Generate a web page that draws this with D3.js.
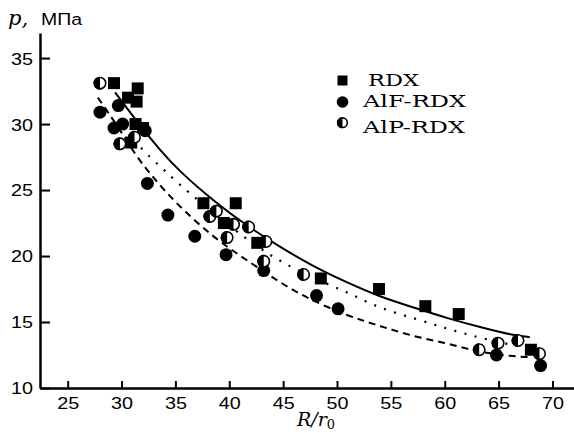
<!DOCTYPE html>
<html>
<head>
<meta charset="utf-8">
<script src="https://cdn.jsdelivr.net/npm/d3@7"></script>
<style>
  body { margin: 0; background: #fff; }
  svg { display: block; }
  .tick text { font-family: "Liberation Sans", Arial, sans-serif; font-size: 16.5px; fill: #000; }
  .legend text { font-family: "DejaVu Serif", serif; font-size: 17.5px; }
</style>
</head>
<body>
<svg id="chart" width="574" height="433"></svg>
<script>
// R/r0 and p (MPa)
const rdxR = [29.3, 30.6, 31.5, 31.4, 30.9, 31.3, 32.0, 37.6, 40.6, 39.5, 42.6, 48.5, 53.9, 58.2, 61.3, 68.0];
const rdxP = [33.1, 32.0, 32.7, 31.7, 28.6, 30.0, 29.7, 24.0, 24.0, 22.5, 21.0, 18.3, 17.5, 16.2, 15.6, 12.9];

const alfR = [28.0, 29.3, 29.7, 30.1, 32.2, 32.4, 34.3, 36.8, 39.7, 43.2, 48.1, 50.1, 64.8, 68.9];
const alfP = [30.9, 29.7, 31.4, 30.0, 29.5, 25.5, 23.1, 21.5, 20.1, 18.9, 17.0, 16.0, 12.5, 11.7];

const alpR = [28.0, 29.85, 31.2, 38.2, 38.8, 40.4, 39.8, 41.8, 43.4, 43.2, 46.9, 63.2, 64.95, 66.8, 68.8];
const alpP = [33.1, 28.5, 29.0, 23.0, 23.4, 22.4, 21.4, 22.2, 21.1, 19.6, 18.6, 12.9, 13.4, 13.6, 12.6];

// fitted curves
const rdxFitR = [29.4, 31.7, 33.6, 35.4, 38.5, 41.6, 44.7, 47.8, 50.9, 54.0, 57.1, 60.2, 63.3, 66.3, 67.9];
const rdxFitP = [32.4, 29.9, 28.0, 26.4, 24.2, 22.3, 20.7, 19.2, 18.0, 16.9, 16.1, 15.3, 14.6, 14.0, 13.85];

const alfFitR = [27.8, 29.6, 31.4, 32.9, 34.8, 38.5, 41.6, 44.7, 47.2, 51.2, 54.0, 57.1, 60.2, 63.25, 66.3, 67.7];
const alfFitP = [32.0, 29.9, 27.5, 26.0, 24.2, 21.4, 19.7, 18.0, 16.8, 15.4, 14.7, 13.9, 13.4, 12.7, 12.4, 12.35];

const alpFitR = [31.2, 32.2, 34.0, 35.7, 40.7, 44.0, 47.8, 50.9, 53.7, 57.1, 60.2, 63.25, 66.3, 67.6];
const alpFitP = [28.8, 27.8, 26.5, 25.15, 21.8, 19.9, 18.3, 17.3, 16.1, 15.3, 14.5, 13.8, 13.25, 13.1];

const xTicks = [25, 30, 35, 40, 45, 50, 55, 60, 65, 70];
const yTicks = [10, 15, 20, 25, 30, 35];
const legendNames = ["RDX", "AlF-RDX", "AlP-RDX"];

const svg = d3.select("#chart");

const x = d3.scaleLinear().domain([22.43, 72]).range([40, 574]);
const y = d3.scaleLinear().domain([10, 36.9]).range([388, 33]);

const zip = (a, b) => a.map((v, i) => [v, b[i]]);

// axes
const xAxis = svg.append("g")
  .attr("transform", "translate(0,388)")
  .call(d3.axisBottom(x).tickValues(xTicks).tickSizeInner(-7).tickSizeOuter(0).tickPadding(9));
const yAxis = svg.append("g")
  .attr("transform", "translate(40,0)")
  .call(d3.axisLeft(y).tickValues(yTicks).tickSizeInner(-10).tickSizeOuter(0).tickPadding(7));

[xAxis, yAxis].forEach(g => {
  g.select(".domain").attr("stroke", "#000").attr("stroke-width", 2.5);
  g.selectAll(".tick line").attr("stroke", "#000").attr("stroke-width", 2);
  // the original digits are drawn wider than the font's own
  g.selectAll(".tick text").attr("textLength", 22).attr("lengthAdjust", "spacingAndGlyphs");
});
yAxis.selectAll(".tick text").attr("dy", "0.36em");

// curves
const line = d3.line().x(d => x(d[0])).y(d => y(d[1])).curve(d3.curveBasis);

svg.append("path").datum(zip(rdxFitR, rdxFitP))
  .attr("d", line).attr("fill", "none").attr("stroke", "#000").attr("stroke-width", 2);
svg.append("path").datum(zip(alfFitR, alfFitP))
  .attr("d", line).attr("fill", "none").attr("stroke", "#000").attr("stroke-width", 2)
  .attr("stroke-dasharray", "7,5");
svg.append("path").datum(zip(alpFitR, alpFitP))
  .attr("d", line).attr("fill", "none").attr("stroke", "#000").attr("stroke-width", 2.2)
  .attr("stroke-dasharray", "2,8.5");

// markers
const sq = 12, rad = 6.5;

svg.append("g").selectAll("rect")
  .data(zip(rdxR, rdxP))
  .join("rect")
    .attr("x", d => x(d[0]) - sq / 2)
    .attr("y", d => y(d[1]) - sq / 2)
    .attr("width", sq).attr("height", sq)
    .attr("fill", "#000");

svg.append("g").selectAll("circle")
  .data(zip(alfR, alfP))
  .join("circle")
    .attr("cx", d => x(d[0])).attr("cy", d => y(d[1]))
    .attr("r", rad).attr("fill", "#000");

function halfCircle(g, cx, cy, r) {
  g.append("circle").attr("cx", cx).attr("cy", cy).attr("r", r - 0.8)
    .attr("fill", "#fff").attr("stroke", "#000").attr("stroke-width", 1.6);
  g.append("path")
    .attr("d", `M${cx},${cy - r} A${r},${r} 0 0,0 ${cx},${cy + r} Z`)
    .attr("fill", "#000");
}

const alpG = svg.append("g");
zip(alpR, alpP).forEach(d => halfCircle(alpG, x(d[0]), y(d[1]), rad));

// legend
const lg = svg.append("g").attr("class", "legend");
lg.append("rect").attr("x", 337.5).attr("y", 75.5).attr("width", 10).attr("height", 10).attr("fill", "#000");
lg.append("circle").attr("cx", 342.5).attr("cy", 102).attr("r", 5.8).attr("fill", "#000");
halfCircle(lg, 342.5, 122.7, 5.6);
const legendPos = [[368, 86, 51], [363, 107, 103], [363, 133, 102]];
legendNames.forEach((name, i) => {
  lg.append("text")
    .attr("x", legendPos[i][0]).attr("y", legendPos[i][1])
    .attr("textLength", legendPos[i][2]).attr("lengthAdjust", "spacingAndGlyphs")
    .text(name);
});

// axis titles
svg.append("text").attr("x", 8).attr("y", 25)
  .attr("font-family", "DejaVu Serif, serif").attr("font-style", "italic")
  .attr("font-size", 21).text("p,");
svg.append("text").attr("x", 41).attr("y", 25)
  .attr("font-family", "Liberation Sans, Arial, sans-serif").attr("font-size", 16)
  .attr("textLength", 41).attr("lengthAdjust", "spacingAndGlyphs")
  .text("\u041c\u041f\u0430");

const xt = svg.append("text").attr("x", 297).attr("y", 426)
  .attr("font-family", "DejaVu Serif, serif").attr("font-size", 19);
xt.append("tspan").attr("font-style", "italic").text("R/r");
xt.append("tspan").attr("font-size", 13).attr("dy", 3).text("0");
</script>
</body>
</html>
